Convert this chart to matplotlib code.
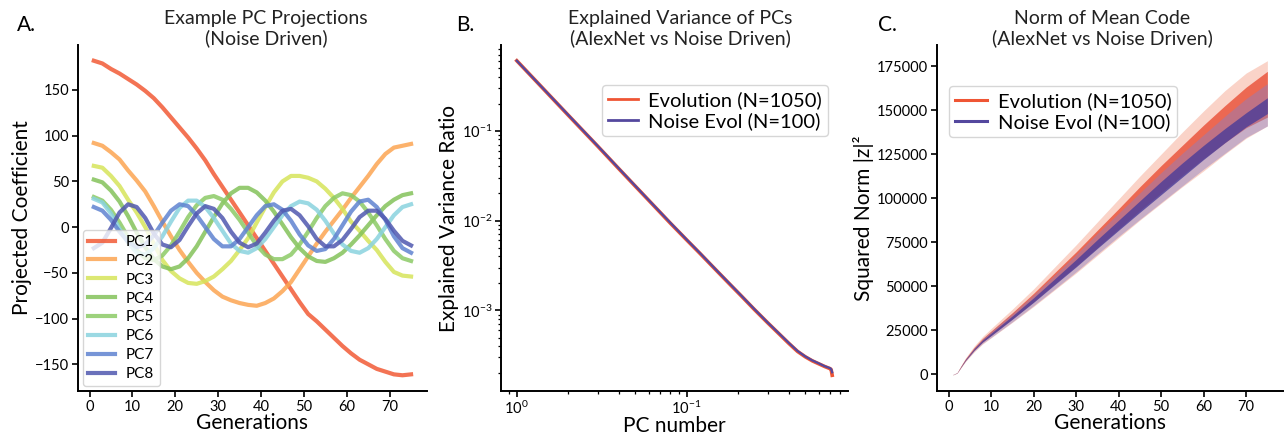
import matplotlib
matplotlib.use("Agg")
import matplotlib.pyplot as plt
from matplotlib.lines import Line2D
from matplotlib.ticker import LogLocator, NullFormatter, FixedLocator, FixedFormatter

plt.rcParams["font.family"] = ["Lato", "DejaVu Sans"]
plt.rcParams["mathtext.default"] = "regular"

# ──────────────────────────────────────────────
# Panel A: PC projections of one noise driven trajectory
# ──────────────────────────────────────────────
gens_a = list(range(1, 76, 2))
pc1 = [182, 179, 173, 168, 162, 156, 149, 141, 131, 120, 109, 98, 86, 73, 58, 44, 30, 16, 2,
       -12, -26, -40, -54, -68, -82, -95, -103, -112, -121, -130, -138, -145, -150, -155, -158,
       -161, -162, -161]
pc2 = [92, 89, 82, 74, 62, 51, 39, 23, 6, -10, -25, -38, -50, -60, -69, -76, -80, -83, -85,
       -86, -83, -78, -70, -60, -46, -32, -18, -5, 7, 19, 32, 44, 56, 69, 80, 87, 89, 91]
pc3 = [67, 65, 56, 45, 30, 16, 0, -18, -36, -48, -56, -61, -62, -59, -54, -46, -37, -25, -12,
       5, 22, 38, 50, 56, 56, 54, 50, 42, 32, 20, 6, -4, -15, -25, -38, -49, -53, -54]
pc4 = [52, 49, 40, 28, 12, -6, -22, -35, -43, -46, -43, -34, -21, -5, 11, 26, 37, 43, 43, 38,
       29, 17, 3, -11, -23, -32, -37, -38, -34, -28, -19, -9, 2, 13, 23, 30, 35, 37]
pc5 = [33, 29, 19, 5, -11, -25, -34, -36, -31, -20, -5, 11, 24, 32, 34, 30, 20, 8, -6, -20,
       -30, -35, -35, -30, -19, -5, 10, 23, 32, 37, 35, 28, 16, 2, -13, -26, -34, -37]
pc6 = [31, 27, 15, -2, -17, -28, -30, -23, -10, 6, 21, 29, 29, 22, 10, -4, -18, -26, -28, -23,
       -13, 0, 13, 23, 28, 26, 19, 7, -7, -19, -26, -28, -23, -13, 0, 13, 22, 25]
pc7 = [22, 18, 8, -5, -16, -22, -19, -9, 5, 18, 25, 23, 13, 0, -13, -21, -21, -13, 0, 13, 23,
       25, 19, 7, -8, -20, -26, -24, -13, 2, 17, 28, 30, 22, 8, -10, -23, -28]
pc8 = [-23, -17, -1, 16, 25, 22, 10, -7, -19, -22, -14, 1, 15, 23, 20, 10, -5, -17, -22, -18,
       -6, 7, 18, 20, 13, 1, -13, -21, -21, -14, -2, 11, 18, 18, 9, -4, -15, -20]
pc_names = ["PC1", "PC2", "PC3", "PC4", "PC5", "PC6", "PC7", "PC8"]
pc_colors = ["#f25a36", "#fca552", "#d6e45a", "#84c25a", "#8cca66", "#8ad3df", "#5f83d0", "#5058b0"]

# ──────────────────────────────────────────────
# Panel B: explained variance ratio spectrum
# ──────────────────────────────────────────────
pc_num = [1, 2, 3, 4, 5, 6, 8, 10, 12, 15, 18, 21, 25, 30, 35, 40, 45, 50, 55, 60, 65, 70, 71, 72]
evr_evo = [0.60, 0.150, 0.067, 0.0375, 0.024, 0.0167, 0.0094, 0.0061, 0.0043, 0.00278, 0.00195,
           0.00145, 0.00103, 0.00073, 0.00055, 0.00043, 0.00035, 0.000305, 0.000275, 0.000255,
           0.000238, 0.000225, 0.00022, 0.00019]
evr_noise = [0.60, 0.151, 0.0675, 0.0378, 0.0242, 0.0168, 0.0095, 0.00615, 0.00434, 0.0028,
             0.00197, 0.00146, 0.00104, 0.000735, 0.000555, 0.000435, 0.000354, 0.000308,
             0.000278, 0.000258, 0.00024, 0.000228, 0.000223, 0.000205]

# ──────────────────────────────────────────────
# Panel C: squared norm of mean code, envelopes of the trajectory bundles
# ──────────────────────────────────────────────
gens_c = [1, 2, 3, 4, 6, 8, 10, 15, 20, 25, 30, 35, 40, 45, 50, 55, 60, 65, 70, 75]
evo_hi = [0, 1000, 5400, 9400, 16000, 21500, 26000, 37000, 48500, 61000, 73500, 86500, 99500,
          112500, 125000, 137500, 149500, 161000, 171000, 178000]
evo_core_hi = [0, 950, 5000, 8900, 15200, 20400, 24600, 35000, 46000, 57800, 69500, 81800, 94000,
               106500, 118500, 130000, 141500, 152500, 163000, 172000]
evo_core_lo = [0, 800, 4400, 7900, 13600, 18300, 22100, 31500, 41200, 51500, 61500, 72000, 82500,
               93000, 103000, 113000, 122500, 131500, 140000, 146000]
evo_lo = [-500, 700, 4000, 7300, 12700, 17200, 20700, 29500, 38500, 48000, 57500, 67500, 77500,
          87500, 97000, 106500, 115500, 125000, 134000, 141000]
noise_hi = [0, 900, 5000, 8800, 15000, 20200, 24300, 34500, 45200, 56500, 68000, 80000, 91500,
            103000, 114500, 125500, 136000, 146500, 156500, 165000]
noise_core_hi = [0, 850, 4800, 8500, 14500, 19500, 23400, 33200, 43500, 54300, 65200, 76500, 87500,
                 98500, 109500, 120000, 130000, 139500, 148500, 157000]
noise_core_lo = [0, 750, 4500, 8000, 13700, 18400, 22000, 31300, 40900, 51000, 61000, 71500, 81800,
                 92000, 102000, 112000, 122000, 131500, 140500, 148000]
noise_lo = [-300, 650, 4200, 7600, 13100, 17600, 21000, 29800, 39000, 48500, 58200, 68300, 78300,
            88000, 97500, 107000, 116500, 125500, 134500, 141000]

RED = "#ef5534"
BLUE = "#54489e"


def style_axes(ax):
    for side in ("top", "right"):
        ax.spines[side].set_visible(False)
    for side in ("left", "bottom"):
        ax.spines[side].set_linewidth(1.4)
    ax.tick_params(which="major", direction="out", length=4.5, width=1.2, labelsize=10.5, pad=2)
    ax.tick_params(which="minor", direction="out", length=2.5, width=0.9)


fig = plt.figure(figsize=(12.84, 4.36), dpi=100)
axA = fig.add_axes([0.0607, 0.1032, 0.2718, 0.7936])
axB = fig.add_axes([0.3902, 0.1032, 0.2702, 0.7936])
axC = fig.add_axes([0.7298, 0.1032, 0.2695, 0.7936])

# ── A ──────────────────────────────────────────
for name, vals, col in zip(pc_names, [pc1, pc2, pc3, pc4, pc5, pc6, pc7, pc8], pc_colors):
    axA.plot(gens_a, vals, color=col, lw=3, alpha=0.85, label=name)
style_axes(axA)
axA.set_xticks(range(0, 80, 10))
axA.set_yticks([-150, -100, -50, 0, 50, 100, 150])
axA.set_xlabel("Generations", fontsize=15, labelpad=-1)
axA.set_ylabel("Projected Coefficient", fontsize=15, labelpad=2)
axA.legend(loc="lower left", fontsize=11, handlelength=1.8, labelspacing=0.32, borderpad=0.35,
           handletextpad=0.7, borderaxespad=0.3, framealpha=0.8, edgecolor="#cccccc", fancybox=True)

# ── B ──────────────────────────────────────────
axB.loglog(pc_num, evr_evo, color=RED, lw=2.6, label="Evolution (N=1050)")
axB.loglog(pc_num, evr_noise, color=BLUE, lw=1.6, label="Noise Evol (N=100)")
style_axes(axB)
axB.xaxis.set_major_locator(FixedLocator([1, 10]))
axB.xaxis.set_major_formatter(FixedFormatter([r"$10^{0}$", r"$10^{-1}$"]))
axB.xaxis.set_minor_locator(LogLocator(base=10, subs=range(2, 10)))
axB.xaxis.set_minor_formatter(NullFormatter())
axB.yaxis.set_major_locator(FixedLocator([1e-3, 1e-2, 1e-1]))
axB.yaxis.set_major_formatter(FixedFormatter([r"$10^{-3}$", r"$10^{-2}$", r"$10^{-1}$"]))
axB.yaxis.set_minor_locator(LogLocator(base=10, subs=range(2, 10)))
axB.yaxis.set_minor_formatter(NullFormatter())
axB.set_xlabel("PC number", fontsize=15, labelpad=-1)
axB.set_ylabel("Explained Variance Ratio", fontsize=15, labelpad=2)
legB = axB.legend(loc="upper right", bbox_to_anchor=(0.943, 0.884), fontsize=14.5, handlelength=1.5,
                  handletextpad=0.5, borderpad=0.3, labelspacing=0.15, borderaxespad=0,
                  framealpha=0.8, edgecolor="#cccccc")
for ln in legB.get_lines():
    ln.set_linewidth(2)

# ── C ──────────────────────────────────────────
axC.fill_between(gens_c, evo_lo, evo_hi, color="#f6b09b", alpha=0.55, lw=0)
axC.fill_between(gens_c, evo_core_lo, evo_core_hi, color="#e8452b", alpha=0.75, lw=0)
axC.fill_between(gens_c, noise_lo, noise_hi, color="#8a7fc4", alpha=0.45, lw=0)
axC.fill_between(gens_c, noise_core_lo, noise_core_hi, color="#4a3c98", alpha=0.8, lw=0)
style_axes(axC)
axC.set_xlim(-2.7, 78.7)
axC.set_xticks(range(0, 80, 10))
axC.set_yticks(range(0, 175001, 25000))
axC.set_xlabel("Generations", fontsize=15, labelpad=-1)
axC.set_ylabel("Squared Norm |z|²", fontsize=15, labelpad=2)
handles = [Line2D([], [], color=RED, lw=2.2), Line2D([], [], color=BLUE, lw=2.2)]
axC.legend(handles, ["Evolution (N=1050)", "Noise Evol (N=100)"], loc="upper left",
           bbox_to_anchor=(0.035, 0.8815), fontsize=14.5, handlelength=1.6, handletextpad=0.5,
           borderpad=0.3, labelspacing=0.15, borderaxespad=0, framealpha=0.8,
           edgecolor="#cccccc")

# ── titles and panel letters ───────────────────
titles = ["Example PC Projections\n(Noise Driven)",
          "Explained Variance of PCs\n(AlexNet vs Noise Driven)",
          "Norm of Mean Code\n(AlexNet vs Noise Driven)"]
for x, t in zip([0.2072, 0.5296, 0.8583], titles):
    fig.text(x, 0.978, t, ha="center", va="top", fontsize=14, linespacing=1.15, color="#222222")
for x, letter in zip([0.013, 0.355, 0.684], ["A.", "B.", "C."]):
    fig.text(x, 0.943, letter, ha="left", va="center", fontsize=15)

fig.savefig("out.png", dpi=100)
